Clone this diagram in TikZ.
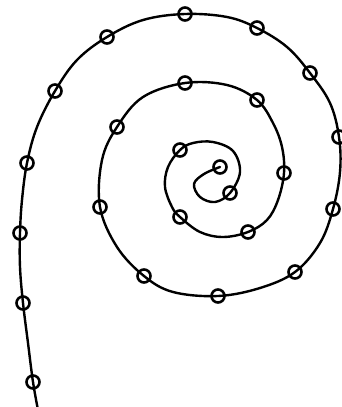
\documentclass[tikz,border=0pt]{standalone}
\begin{document}
\begin{tikzpicture}[x=1pt,y=-1pt,
  curve/.style={line width=2.4pt, line join=round, line cap=round},
  dot/.style={circle, draw, line width=2.6pt, minimum size=13pt, inner sep=0pt}]
\useasboundingbox (0,0) rectangle (341,407);
\draw[curve] plot[smooth, tension=0.6] coordinates {
 (220,167) (204,174) (194,184) (200,197) (215,202) (230,193) (240,172) (233,151) (213,142) (193,143) (180,150)
 (168,167) (165,187) (172,207) (180,217) (200,232) (223,237) (248,232) (267,220) (278,200) (284,173)
 (282,147) (273,123) (257,100) (227,85) (185,83) (143,97) (117,127) (102,160) (100,207) (117,247)
 (144,276) (173,292) (218,296) (260,288) (295,272) (320,243) (333,209) (340,172) (339,137) (330,103)
 (310,73) (287,47) (257,28) (227,17) (185,14) (143,20) (107,37) (77,60) (55,91) (37,127) (27,163)
 (22,200) (20,233) (20,267) (23,303) (28,343) (33,382) (38,410)};
\foreach \p [count=\i] in {(220,167),(230,193),(180,150),(180,217),(248,232),(284,173),(257,100),(185,83),
  (117,127),(100,207),(144,276),(218,296),(295,272),(333,209),(339,137),(310,73),(257,28),(185,14),
  (107,37),(55,91),(27,163),(20,233),(23,303),(33,382)}
  \node[dot] (c\i) at \p {};
\end{tikzpicture}
\end{document}
